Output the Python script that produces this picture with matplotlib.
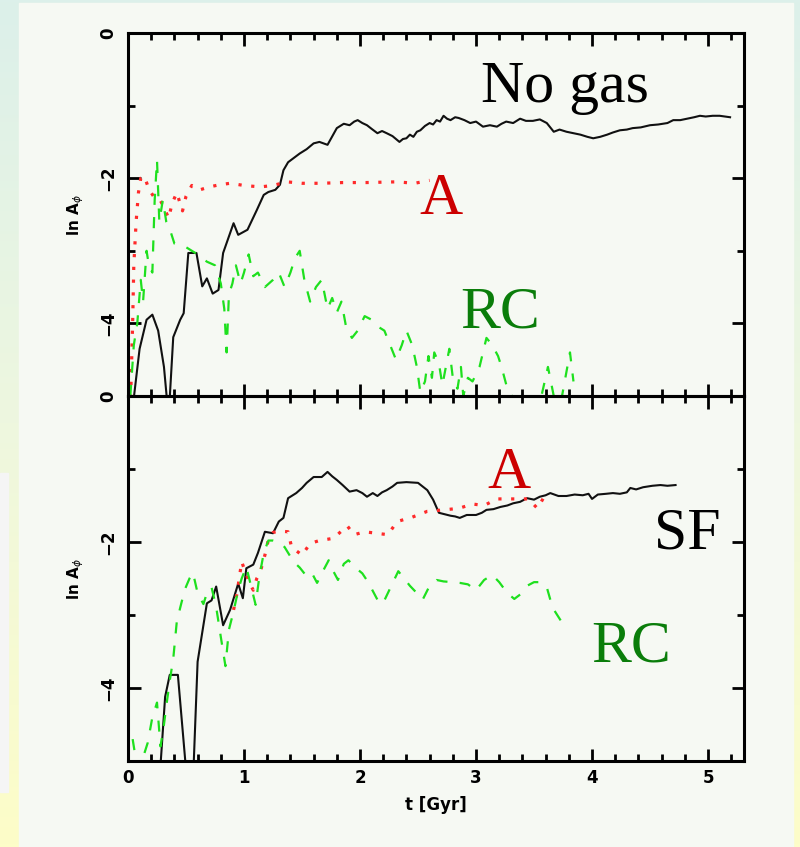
import numpy as np
import matplotlib.pyplot as plt
from matplotlib.colors import LinearSegmentedColormap
from matplotlib.patches import Rectangle

# ---- data: t [Gyr], ln A_phi ----
# top panel (no gas)
t_bar_ng = [0.03, 0.10, 0.16, 0.21, 0.26, 0.31, 0.35, 0.39, 0.45, 0.48, 0.52, 0.59,
            0.64, 0.68, 0.73, 0.78, 0.82, 0.91, 0.95, 1.03, 1.11, 1.17, 1.21, 1.27,
            1.31, 1.34, 1.38, 1.43, 1.48, 1.54, 1.60, 1.65, 1.72, 1.80, 1.86, 1.91,
            1.95, 1.98, 2.02, 2.06, 2.10, 2.15, 2.19, 2.23, 2.28, 2.34, 2.37, 2.40,
            2.43, 2.46, 2.49, 2.52, 2.56, 2.60, 2.63, 2.66, 2.69, 2.72, 2.75, 2.78,
            2.82, 2.85, 2.90, 2.95, 3.00, 3.06, 3.12, 3.18, 3.22, 3.26, 3.32, 3.38,
            3.43, 3.49, 3.55, 3.61, 3.67, 3.72, 3.78, 3.84, 3.90, 3.96, 4.01, 4.07,
            4.13, 4.18, 4.24, 4.30, 4.35, 4.42, 4.50, 4.57, 4.65, 4.70, 4.76, 4.82,
            4.88, 4.93, 4.98, 5.04, 5.10, 5.19]
a_bar_ng = [-5.3, -4.35, -3.95, -3.88, -4.10, -4.60, -5.3, -4.19, -3.95, -3.86, -3.03, -3.03,
            -3.49, -3.38, -3.59, -3.54, -3.03, -2.62, -2.78, -2.71, -2.44, -2.23, -2.19, -2.16,
            -2.09, -1.89, -1.78, -1.72, -1.66, -1.60, -1.52, -1.50, -1.54, -1.31, -1.25, -1.27,
            -1.22, -1.20, -1.24, -1.27, -1.32, -1.38, -1.35, -1.38, -1.42, -1.50, -1.46, -1.45,
            -1.40, -1.43, -1.36, -1.34, -1.28, -1.24, -1.26, -1.20, -1.22, -1.14, -1.18, -1.20,
            -1.16, -1.17, -1.20, -1.24, -1.22, -1.29, -1.27, -1.29, -1.25, -1.22, -1.24, -1.18,
            -1.21, -1.21, -1.19, -1.24, -1.36, -1.33, -1.36, -1.38, -1.40, -1.43, -1.45, -1.43,
            -1.40, -1.37, -1.34, -1.33, -1.31, -1.30, -1.27, -1.26, -1.24, -1.20, -1.20, -1.18,
            -1.16, -1.14, -1.15, -1.14, -1.14, -1.16]

t_a_ng = [0.02, 0.04, 0.05, 0.07, 0.09, 0.11, 0.14, 0.18, 0.22, 0.27, 0.31, 0.35, 0.38,
          0.42, 0.47, 0.50, 0.55, 0.62, 0.70, 0.79, 0.88, 1.00, 1.14, 1.25, 1.37, 1.50,
          1.66, 1.85, 2.05, 2.32, 2.47, 2.60]
a_a_ng = [-5.2, -4.0, -3.2, -2.6, -2.2, -2.0, -1.97, -2.15, -2.25, -2.28, -2.4, -2.55, -2.35,
          -2.2, -2.45, -2.25, -2.1, -2.16, -2.12, -2.09, -2.07, -2.1, -2.12, -2.1, -2.05, -2.07,
          -2.07, -2.06, -2.06, -2.05, -2.07, -2.03]

t_rc_ng = [0.02, 0.05, 0.08, 0.11, 0.13, 0.16, 0.18, 0.21, 0.23, 0.25, 0.27, 0.30, 0.33,
           0.36, 0.40, 0.50, 0.60, 0.68, 0.75, 0.80, 0.83, 0.85, 0.87, 0.90, 0.93, 0.97,
           1.00, 1.04, 1.08, 1.12, 1.18, 1.25, 1.30, 1.35, 1.40, 1.44, 1.48, 1.52, 1.57,
           1.62, 1.67, 1.72, 1.76, 1.80, 1.84, 1.88, 1.93, 1.98, 2.04, 2.10, 2.16, 2.21,
           2.26, 2.31, 2.36, 2.40, 2.45, 2.49, 2.52, 2.56, 2.59, 2.62, 2.64, 2.68, 2.71,
           2.74, 2.77, 2.80, 2.84, 2.87, 2.89, 2.93, 2.97, 3.03, 3.09, 3.14, 3.19, 3.22,
           3.27, 3.35, 3.45, 3.55, 3.62, 3.67, 3.73, 3.81, 3.84]
a_rc_ng = [-5.0, -4.3, -4.0, -3.4, -3.7, -3.0, -3.2, -3.3, -2.3, -1.75, -2.6, -2.3, -2.6,
           -2.7, -2.9, -2.95, -3.05, -3.15, -3.2, -3.45, -3.8, -4.4, -3.6, -3.45, -3.2, -3.45,
           -3.3, -3.05, -3.35, -3.3, -3.5, -3.4, -3.3, -3.5, -3.3, -3.1, -3.0, -3.4, -3.7,
           -3.5, -3.4, -3.8, -3.65, -3.85, -3.7, -4.05, -4.2, -4.1, -3.9, -3.95, -4.05, -4.1,
           -4.3, -4.5, -4.3, -4.1, -4.3, -4.6, -4.95, -4.8, -4.45, -4.75, -4.4, -4.55, -4.85,
           -4.6, -4.35, -4.75, -4.9, -4.6, -5.0, -4.75, -4.8, -4.6, -4.2, -4.3, -4.45, -4.6,
           -4.9, -5.1, -5.2, -5.1, -4.6, -5.0, -5.1, -4.4, -4.8]

# bottom panel (star formation)
t_bar_sf = [0.27, 0.32, 0.36, 0.43, 0.51, 0.56, 0.60, 0.68, 0.72, 0.76, 0.82, 0.88, 0.95,
            0.99, 1.02, 1.08, 1.12, 1.18, 1.25, 1.30, 1.34, 1.38, 1.45, 1.50, 1.54, 1.60,
            1.67, 1.72, 1.76, 1.80, 1.85, 1.91, 1.97, 2.02, 2.06, 2.11, 2.15, 2.19, 2.23,
            2.28, 2.32, 2.40, 2.50, 2.58, 2.63, 2.68, 2.73, 2.78, 2.82, 2.86, 2.92, 3.00,
            3.05, 3.09, 3.15, 3.21, 3.27, 3.32, 3.38, 3.44, 3.50, 3.55, 3.60, 3.64, 3.71,
            3.78, 3.85, 3.92, 3.97, 4.00, 4.05, 4.12, 4.18, 4.24, 4.30, 4.33, 4.38, 4.44,
            4.52, 4.59, 4.65, 4.72]
a_bar_sf = [-5.3, -4.12, -3.82, -3.82, -5.3, -5.3, -3.64, -2.84, -2.80, -2.61, -3.14, -2.93, -2.57,
            -2.77, -2.36, -2.31, -2.15, -1.86, -1.88, -1.72, -1.67, -1.40, -1.33, -1.26, -1.19, -1.11,
            -1.11, -1.04, -1.10, -1.15, -1.22, -1.31, -1.29, -1.33, -1.38, -1.33, -1.37, -1.32, -1.29,
            -1.24, -1.19, -1.18, -1.19, -1.29, -1.42, -1.60, -1.62, -1.64, -1.65, -1.67, -1.63, -1.63,
            -1.60, -1.56, -1.55, -1.52, -1.50, -1.47, -1.45, -1.40, -1.42, -1.38, -1.36, -1.33, -1.37,
            -1.37, -1.35, -1.36, -1.34, -1.41, -1.35, -1.34, -1.33, -1.34, -1.32, -1.26, -1.28, -1.25,
            -1.23, -1.22, -1.23, -1.22]

t_a_sf = [0.91, 0.94, 0.98, 1.02, 1.06, 1.08, 1.11, 1.14, 1.18, 1.21, 1.25, 1.30, 1.38, 1.41,
          1.50, 1.57, 1.65, 1.77, 1.89, 1.95, 2.04, 2.14, 2.24, 2.32, 2.45, 2.58, 2.72, 2.85,
          2.97, 3.07, 3.18, 3.32, 3.45, 3.53, 3.58]
a_a_sf = [-2.93, -2.7, -2.27, -2.45, -2.6, -2.66, -2.5, -2.41, -2.18, -1.97, -1.87, -1.85, -1.86,
          -2.07, -2.18, -2.02, -1.98, -1.95, -1.78, -1.9, -1.86, -1.88, -1.90, -1.72, -1.66, -1.58,
          -1.56, -1.54, -1.48, -1.5, -1.41, -1.41, -1.41, -1.54, -1.40]

t_rc_sf = [0.04, 0.08, 0.12, 0.17, 0.21, 0.25, 0.28, 0.31, 0.33, 0.36, 0.39, 0.42, 0.45, 0.49,
           0.53, 0.56, 0.60, 0.65, 0.68, 0.72, 0.76, 0.80, 0.84, 0.87, 0.91, 0.95, 0.98, 1.02,
           1.06, 1.10, 1.13, 1.17, 1.21, 1.25, 1.30, 1.35, 1.40, 1.44, 1.48, 1.53, 1.58, 1.63,
           1.68, 1.73, 1.77, 1.81, 1.86, 1.90, 1.96, 2.02, 2.07, 2.12, 2.17, 2.21, 2.27, 2.33,
           2.38, 2.43, 2.49, 2.54, 2.60, 2.66, 2.72, 2.80, 2.86, 2.93, 3.00, 3.07, 3.14, 3.20,
           3.27, 3.33, 3.38, 3.44, 3.50, 3.56, 3.61, 3.66, 3.70, 3.74]
a_rc_sf = [-4.7, -5.1, -5.0, -4.75, -4.4, -4.2, -4.8, -4.5, -4.25, -3.9, -3.6, -3.1, -2.9, -2.65,
           -2.5, -2.42, -2.7, -2.85, -2.7, -2.62, -2.89, -3.3, -3.7, -3.2, -2.95, -2.66, -2.5, -2.34,
           -2.6, -2.86, -2.5, -2.15, -1.98, -1.98, -2.0, -2.07, -2.2, -2.29, -2.35, -2.45, -2.41, -2.56,
           -2.4, -2.25, -2.4, -2.52, -2.3, -2.25, -2.35, -2.43, -2.55, -2.7, -2.85, -2.8, -2.6, -2.4,
           -2.5, -2.6, -2.7, -2.79, -2.6, -2.52, -2.54, -2.55, -2.56, -2.58, -2.66, -2.52, -2.45, -2.55,
           -2.7, -2.78, -2.72, -2.6, -2.55, -2.55, -2.62, -2.9, -3.0, -3.1]

fig = plt.figure(figsize=(8, 8.47), dpi=100)

# slide background
bg = fig.add_axes([0, 0, 1, 1], zorder=-10)
cmap = LinearSegmentedColormap.from_list('slide', ['#dcf0ea', '#eef7df', '#fdfdc8'])
bg.imshow(np.linspace(0, 1, 256).reshape(-1, 1), aspect='auto', cmap=cmap,
          extent=[0, 1, 0, 1], origin='upper')
bg.add_patch(Rectangle((19/800, 0), (793-19)/800, 1 - 3/847, color='#f6f9f3'))
bg.add_patch(Rectangle((0, 1 - 792/847), 8/800, (792-473)/847, color='#f5f5f5'))
bg.set_xlim(0, 1)
bg.set_ylim(0, 1)
bg.axis('off')

ax1 = fig.add_axes([0.16, 0.5325, 0.77, 0.4285])
ax2 = fig.add_axes([0.16, 0.1015, 0.77, 0.431], sharex=ax1)

black = dict(color='#111111', lw=1.5)
red = dict(color='#ff2a2a', lw=2.3, linestyle=(0, (1, 3)))
green = dict(color='#1ee01e', lw=1.6, linestyle=(0, (5, 5.5)))

ax1.plot(t_bar_ng, a_bar_ng, **black)
ax1.plot(t_a_ng, a_a_ng, **red)
ax1.plot(t_rc_ng, a_rc_ng, **green)

ax2.plot(t_bar_sf, a_bar_sf, **black)
ax2.plot(t_a_sf, a_a_sf, **red)
ax2.plot(t_rc_sf, a_rc_sf, **green)

for ax in (ax1, ax2):
    ax.set_facecolor('none')
    ax.set_xlim(0, 5.31)
    ax.set_ylim(-5, 0)
    ax.set_xticks(range(6))
    ax.set_xticks(np.arange(0, 5.3, 0.2), minor=True)
    ax.set_yticks([0, -2, -4])
    ax.set_yticks([-1, -3, -5], minor=True)
    ax.tick_params(which='both', direction='in', top=True, right=True, width=2)
    ax.tick_params(which='major', length=9)
    ax.tick_params(which='minor', length=5)
    ax.tick_params(axis='y', labelrotation=90, labelsize=12, pad=8)
    ax.tick_params(axis='x', labelsize=12, pad=6)
    for s in ax.spines.values():
        s.set_linewidth(2.2)
    for lab in ax.get_yticklabels() + ax.get_xticklabels():
        lab.set_fontweight('bold')
    for lab in ax.get_yticklabels():
        lab.set_va('center')
    ax.set_ylabel(r'ln A$_\phi$', fontweight='bold', fontsize=11)
    ax.yaxis.set_label_coords(-0.068, 0.5)

ax1.tick_params(labelbottom=False)
ax2.set_xlabel('t [Gyr]', fontweight='bold', fontsize=12)
ax2.xaxis.set_label_coords(0.5, -0.095)

serif = dict(family='Liberation Serif', fontsize=43, ha='center', va='baseline')
ax1.text(0.709, 0.81, 'No gas', color='black', transform=ax1.transAxes, **serif)
ax1.text(0.508, 0.501, 'A', color='#cc0000', transform=ax1.transAxes, **serif)
ax1.text(0.604, 0.19, 'RC', color='#0a7d0a', transform=ax1.transAxes, **serif)
ax2.text(0.619, 0.748, 'A', color='#cc0000', transform=ax2.transAxes, **serif)
ax2.text(0.908, 0.581, 'SF', color='black', transform=ax2.transAxes, **serif)
ax2.text(0.817, 0.274, 'RC', color='#0a7d0a', transform=ax2.transAxes, **serif)

plt.savefig('out.png', dpi=100)
